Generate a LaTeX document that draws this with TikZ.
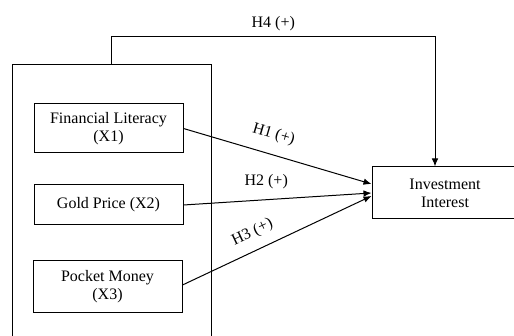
\documentclass[tikz,border=0pt]{standalone}
\usepackage{fontspec}
\setmainfont{Liberation Serif}
\usepackage{tikz}
\usetikzlibrary{arrows.meta}

\begin{document}
\begin{tikzpicture}[x=1pt, y=1pt, line width=1pt,
		box/.style = {draw, rectangle, inner sep=0pt, align=center, font=\fontsize{16}{18}\selectfont},
		lbl/.style = {font=\fontsize{16}{18}\selectfont, inner sep=1pt},
		arr/.style = {-{Latex[length=8pt, width=6.5pt]}}]
	
		\useasboundingbox (0, 0) rectangle (514, 336);
		\clip (0, 0) rectangle (514, 336);
		
		\node[box, minimum width=199, minimum height=290] (grp) at (111.5, 126) {};
		\node[box, minimum width=149, minimum height=49] (fl) at (108.5, 207.5) {Financial Literacy\\(X1)};
		\node[box, minimum width=149, minimum height=40] (gp) at (108.5, 131) {Gold Price (X2)};
		\node[box, minimum width=149, minimum height=52] (pm) at (107.5, 49) {Pocket Money\\(X3)};
		\node[box, minimum width=146, minimum height=52] (ii) at (445, 143) {Investment\\Interest};
		
		\draw[arr] (fl.east) -- ([yshift=9]ii.west) node[lbl, pos=0.45, sloped, above=11] {H1 (+)};
		\draw[arr] (gp.east) -- (ii.west) node[lbl, pos=0.44, above=9] {H2 (+)};
		\draw[arr] ([yshift=2]pm.east) -- ([yshift=-3]ii.west) node[lbl, pos=0.41, sloped, above=9] {H3 (+)};
		\draw[arr] (grp.north) -- ++(0, 28) -| ([xshift=-10]ii.north) node[lbl, pos=0.25, above=4] {H4 (+)};
		
	\end{tikzpicture}
\end{document}
